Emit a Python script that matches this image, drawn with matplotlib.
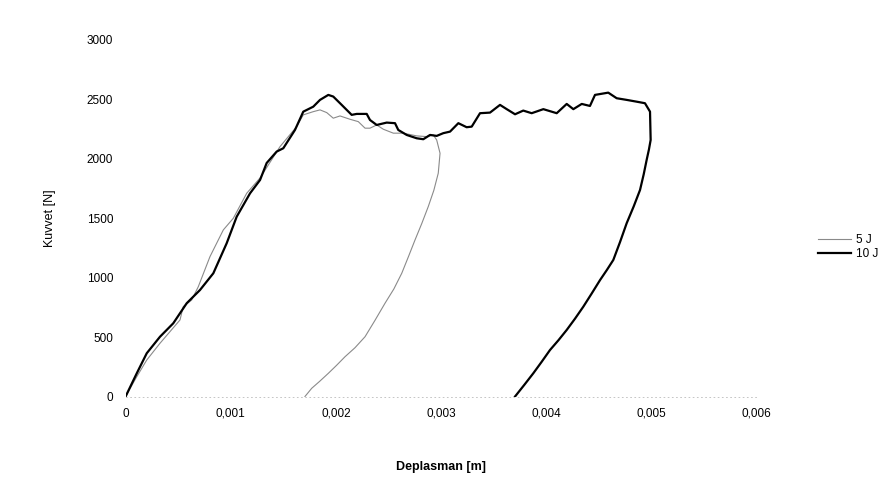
import matplotlib
matplotlib.use("Agg")
import matplotlib.pyplot as plt

plt.rcParams['font.family'] = ['Liberation Sans', 'DejaVu Sans']

# 5 J series (displacement in m, force in N)
x_5J = [0.0, 0.000099, 0.000201, 0.000327, 0.000517, 0.000548, 0.000628, 0.000691,
        0.000802, 0.000929, 0.001024, 0.001151, 0.001278, 0.001468, 0.001626, 0.001689,
        0.001784, 0.001848, 0.001912, 0.001974, 0.002038, 0.002133, 0.002212, 0.002276,
        0.002323, 0.002387, 0.002450, 0.002545, 0.002640, 0.002767, 0.002862, 0.002925,
        0.002957, 0.002989,
        0.002972, 0.002930, 0.002877, 0.002815, 0.002751, 0.002690, 0.002625, 0.002550,
        0.002466, 0.002370, 0.002276, 0.002180, 0.002086, 0.002005, 0.001927, 0.001845,
        0.001769, 0.001705]
y_5J = [0, 156, 307, 448, 644, 756, 812, 924,
        1177, 1402, 1500, 1710, 1839, 2103, 2271, 2370,
        2397, 2412, 2389, 2342, 2361, 2333, 2313, 2258,
        2258, 2285, 2249, 2216, 2216, 2193, 2187, 2201,
        2159, 2047,
        1879, 1735, 1598, 1455, 1317, 1180, 1037, 905,
        785, 640, 503, 410, 335, 262, 195, 128,
        69, 0]

# 10 J series
x_10J = [0.0, 0.000106, 0.000201, 0.000327, 0.000453, 0.000581, 0.000707, 0.000834,
         0.000961, 0.001056, 0.001183, 0.001278, 0.001341, 0.001436, 0.001499, 0.001610,
         0.001689, 0.001784, 0.001848, 0.001927, 0.001974, 0.002054, 0.002149, 0.002197,
         0.002292, 0.002323, 0.002387, 0.002482, 0.002561, 0.002592, 0.002672, 0.002767,
         0.002830, 0.002894, 0.002957, 0.003020, 0.003084, 0.003163, 0.003242, 0.003290,
         0.003369, 0.003464, 0.003559, 0.003623, 0.003702, 0.003780, 0.003860, 0.003971,
         0.004098, 0.004193, 0.004256, 0.004336, 0.004414, 0.004462, 0.004588, 0.004668,
         0.004763, 0.004858, 0.004937, 0.004985, 0.004991,
         0.004975, 0.004953, 0.004925, 0.004890, 0.004830, 0.004763, 0.004700, 0.004636,
         0.004575, 0.004510, 0.004430, 0.004351, 0.004272, 0.004193, 0.004114, 0.004034,
         0.003955, 0.003876, 0.003790, 0.003702]
y_10J = [0, 195, 364, 503, 616, 785, 896, 1037,
         1290, 1513, 1710, 1822, 1965, 2061, 2089, 2243,
         2397, 2439, 2496, 2538, 2524, 2454, 2370, 2378,
         2378, 2327, 2285, 2305, 2300, 2243, 2201, 2173,
         2165, 2201, 2193, 2216, 2229, 2300, 2266, 2271,
         2384, 2389, 2454, 2418, 2375, 2406, 2384, 2418,
         2384, 2462, 2418, 2462, 2445, 2538, 2557, 2510,
         2496, 2481, 2468, 2397, 2159,
         2080, 1991, 1870, 1738, 1600, 1458, 1300, 1149,
         1065, 980, 866, 756, 655, 560, 473, 391,
         292, 196, 98, 0]

x_ticks = [0, 0.001, 0.002, 0.003, 0.004, 0.005, 0.006]
x_ticklabels = ["0", "0,001", "0,002", "0,003", "0,004", "0,005", "0,006"]
y_ticks = [0, 500, 1000, 1500, 2000, 2500, 3000]
y_ticklabels = ["0", "500", "1000", "1500", "2000", "2500", "3000"]

W, H = 892, 478
fig = plt.figure(figsize=(W / 100, H / 100), dpi=100)
left, right = 125.6 / W, 756.8 / W
bottom, top = (H - 396.5) / H, (H - 40) / H
ax = fig.add_axes([left, bottom, right - left, top - bottom])

ax.plot(x_5J, y_5J, color="#8a8a8a", lw=0.8, label="5 J")
ax.plot(x_10J, y_10J, color="black", lw=1.6, label="10 J")

ax.set_xlim(0, 0.006)
ax.set_ylim(0, 3000)
ax.set_xticks(x_ticks)
ax.set_xticklabels(x_ticklabels)
ax.set_yticks(y_ticks)
ax.set_yticklabels(y_ticklabels)
ax.tick_params(axis="both", length=0, labelsize=8.5, colors="black")
ax.tick_params(axis="y", pad=9)
ax.tick_params(axis="x", pad=8)
for s in ["top", "right", "left"]:
    ax.spines[s].set_visible(False)
ax.spines["bottom"].set_linestyle((0, (1, 4)))
ax.spines["bottom"].set_color("#bbbbbb")
ax.spines["bottom"].set_linewidth(0.6)

ax.set_xlabel("Deplasman [m]", fontsize=9, fontweight="bold", labelpad=30)
ax.set_ylabel("Kuvvet [N]", fontsize=9, labelpad=22)

fig.legend(loc="upper left", bbox_to_anchor=(818 / W, 1 - 234 / H), frameon=False,
           fontsize=8.5, handlelength=2.8, handletextpad=0.4, labelspacing=0.15,
           borderaxespad=0, borderpad=0)

fig.savefig("out.png", dpi=100, facecolor="white")
